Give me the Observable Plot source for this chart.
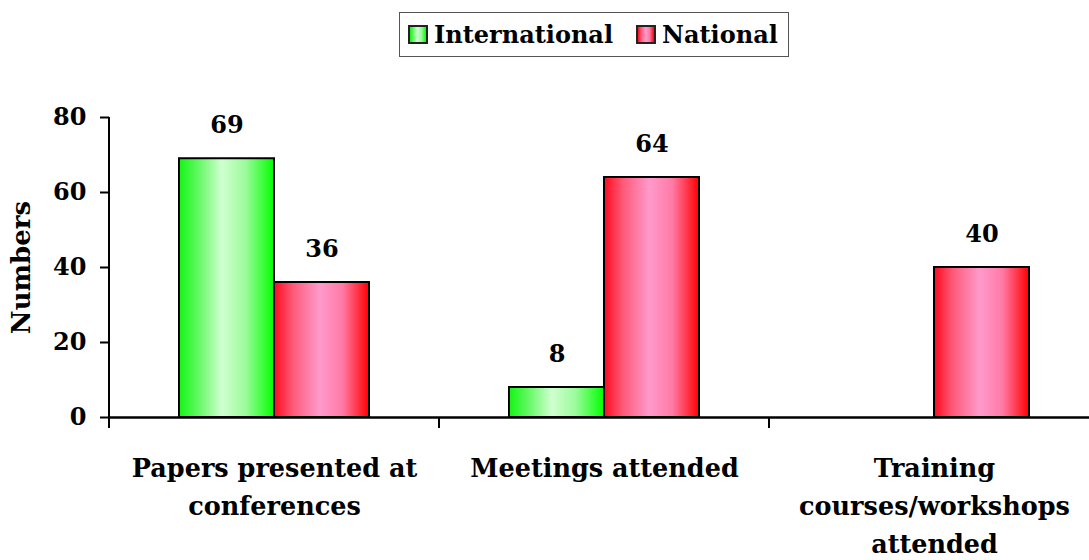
<!DOCTYPE html>
<html><head><meta charset="utf-8">
<script src="https://cdn.jsdelivr.net/npm/d3@7"></script>
<script src="https://cdn.jsdelivr.net/npm/@observablehq/plot@0.6"></script>
<style>
body{margin:0;background:#fff;font-family:"DejaVu Serif",serif;font-weight:bold;}
#legend{height:65px;position:relative;}
.box{position:absolute;left:399px;top:12px;width:390px;height:45px;border:1.5px solid #555;display:flex;align-items:center;box-sizing:border-box;padding-left:8px;font-size:24px;color:#000;}
.item{display:flex;align-items:center;margin-right:23px;}
.sw{width:20px;height:19px;border:2px solid #222;box-sizing:border-box;margin-right:6px;}
</style></head><body>
<div id="legend"></div>
<div id="chart"></div>
<script>
const categories = ["Papers presented at conferences", "Meetings attended", "Training courses/workshops attended"];
const categoryLabels = ["Papers presented at\nconferences", "Meetings attended", "Training\ncourses/workshops\nattended"];
const seriesNames = ["International", "National"];
const international = [69, 8, null];
const national = [36, 64, 40];
const yTicks = [0, 20, 40, 60, 80];
const yLabel = "Numbers";

const gradStops = {
  International: [["0%", "#14f514"], ["18%", "#5af75a"], ["45%", "#d0ffd0"], ["70%", "#9cfb9c"], ["100%", "#00ff00"]],
  National: [["0%", "#ff0a1e"], ["20%", "#ff5a7a"], ["48%", "#ff9acb"], ["72%", "#ff7aa6"], ["100%", "#ff0000"]]
};
const gradIds = {International: "gIntl", National: "gNat"};

// Legend
const box = d3.select("#legend").append("div").attr("class", "box");
seriesNames.forEach(s => {
  const it = box.append("div").attr("class", "item");
  it.append("div").attr("class", "sw")
    .style("background", `linear-gradient(to right, ${gradStops[s].map(([o, c]) => c + " " + o).join(",")})`);
  it.append("span").text(s);
});

const intlRows = categories.map((c, i) => ({category: c, value: international[i]})).filter(d => d.value != null);
const natRows = categories.map((c, i) => ({category: c, value: national[i]})).filter(d => d.value != null);

function gradients() {
  const defs = d3.create("svg:defs");
  for (const s of seriesNames) {
    const g = defs.append("linearGradient").attr("id", gradIds[s]).attr("x1", "0").attr("x2", "1").attr("y1", "0").attr("y2", "0");
    for (const [o, c] of gradStops[s]) g.append("stop").attr("offset", o).attr("stop-color", c);
  }
  return defs.node();
}

function frameLines(index, scales, values, dimensions) {
  const {x, y} = scales;
  const {marginLeft} = dimensions;
  const off = x(categories[0]) - marginLeft;
  const y0 = y(0);
  const g = d3.create("svg:g").attr("stroke", "#000").attr("stroke-width", 2);
  g.append("line").attr("x1", marginLeft).attr("x2", marginLeft).attr("y1", y(yTicks[yTicks.length - 1])).attr("y2", y0 + 11);
  for (const c of categories) {
    const px = x(c) - off;
    g.append("line").attr("x1", px).attr("x2", px).attr("y1", y0).attr("y2", y0 + 11);
  }
  return g.node();
}

const chart = Plot.plot({
  width: 1089, height: 495,
  marginLeft: 109, marginRight: -10, marginTop: 52, marginBottom: 143,
  style: {fontFamily: "DejaVu Serif", fontWeight: "bold", fontSize: "24px", color: "#000", background: "white"},
  x: {domain: categories, padding: 0},
  y: {domain: [0, 80]},
  marks: [
    gradients,
    Plot.barY(intlRows, {x: "category", y: "value", fill: "url(#gIntl)", stroke: "#000", strokeWidth: 2, insetLeft: 70, insetRight: 165}),
    Plot.barY(natRows, {x: "category", y: "value", fill: "url(#gNat)", stroke: "#000", strokeWidth: 2, insetLeft: 165, insetRight: 70}),
    Plot.ruleY([0], {stroke: "#000", strokeWidth: 2.5}),
    Plot.text(intlRows, {x: "category", y: "value", text: d => String(d.value), dx: -47.5, dy: -33, fontSize: 24, lineAnchor: "middle"}),
    Plot.text(natRows, {x: "category", y: "value", text: d => String(d.value), dx: 47.5, dy: -33, fontSize: 24, lineAnchor: "middle"}),
    Plot.axisY({ticks: yTicks, tickSize: 9, tickPadding: 14, strokeWidth: 2, fontSize: 24, label: null}),
    Plot.axisY({ticks: [], tickSize: 0, fontSize: 26, label: yLabel, labelAnchor: "center", labelOffset: 98, labelArrow: "none"}),
    Plot.axisX({tickSize: 0, tickPadding: 32, fontSize: 25.5, lineHeight: 1.5, tickFormat: c => categoryLabels[categories.indexOf(c)], label: null}),
    frameLines
  ]
});
document.getElementById("chart").appendChild(chart);
</script>
</body></html>
